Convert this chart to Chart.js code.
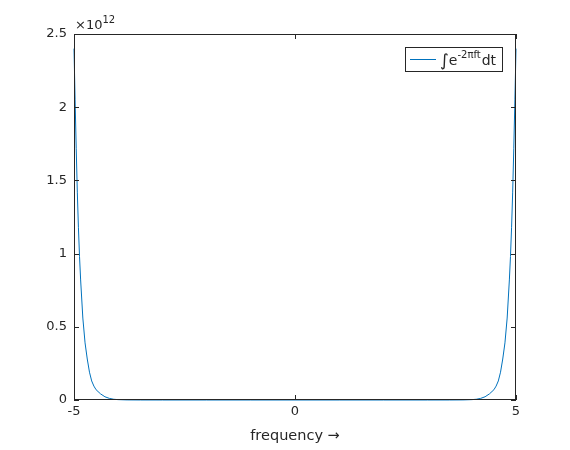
<!DOCTYPE html>
<html>
<head>
<meta charset="utf-8">
<script src="https://cdn.jsdelivr.net/npm/chart.js@4/dist/chart.umd.min.js"></script>
<style>html,body{margin:0;background:#fff}</style>
</head>
<body>
<canvas id="chart" width="570" height="450"></canvas>
<script>
// Values (y in units of 10^12)
const freq = [-5, -4.975, -4.95, -4.925, -4.9, -4.875, -4.85, -4.8, -4.75, -4.7, -4.65, -4.6, -4.55, -4.5, -4.4, -4.3, -4.2, -4.1, -4, -3.8, -3.5,
              -3, -2, -1, 0, 1, 2, 3,
              3.5, 3.8, 4, 4.1, 4.2, 4.3, 4.4, 4.5, 4.55, 4.6, 4.65, 4.7, 4.75, 4.8, 4.85, 4.875, 4.9, 4.925, 4.95, 4.975, 5];
const magnitude = [2.40, 2.05, 1.72, 1.42, 1.18, 0.98, 0.82, 0.56, 0.39, 0.28, 0.19, 0.13, 0.095, 0.07, 0.042, 0.022, 0.011, 0.005, 0.0025, 0.0006, 0.0001,
                   0, 0, 0, 0, 0, 0, 0,
                   0.0001, 0.0006, 0.0025, 0.005, 0.011, 0.022, 0.042, 0.07, 0.095, 0.13, 0.19, 0.28, 0.39, 0.56, 0.82, 0.98, 1.18, 1.42, 1.72, 2.05, 2.40];
const xTicks = [-5, 0, 5];
const yTicks = [0, 0.5, 1, 1.5, 2, 2.5];
const exponentLabel = '12';

const textColor = '#262626';
const lineColor = '#0072bd';
const fontFamily = '"DejaVu Sans", sans-serif';

// box, inward ticks, exponent and legend drawn the MATLAB way
const matlabFrame = {
    id: 'matlabFrame',
    afterDraw(chart) {
        const {ctx, chartArea: a, scales: {x, y}} = chart;
        ctx.save();
        ctx.strokeStyle = textColor;
        ctx.lineWidth = 1;
        ctx.strokeRect(a.left + 0.5, a.top + 0.5, a.right - a.left - 1, a.bottom - a.top - 1);

        ctx.beginPath();
        xTicks.forEach(v => {
            const px = Math.round(x.getPixelForValue(v)) + 0.5;
            ctx.moveTo(px, a.bottom); ctx.lineTo(px, a.bottom - 5);
            ctx.moveTo(px, a.top); ctx.lineTo(px, a.top + 5);
        });
        yTicks.forEach(v => {
            const py = Math.round(y.getPixelForValue(v)) + 0.5;
            ctx.moveTo(a.left, py); ctx.lineTo(a.left + 5, py);
            ctx.moveTo(a.right, py); ctx.lineTo(a.right - 5, py);
        });
        ctx.stroke();

        // ×10^12
        ctx.fillStyle = textColor;
        ctx.textBaseline = 'alphabetic';
        ctx.font = '13px ' + fontFamily;
        ctx.fillText('\u00d710', a.left + 1, a.top - 5);
        const w = ctx.measureText('\u00d710').width;
        ctx.font = '10px ' + fontFamily;
        ctx.fillText(exponentLabel, a.left + 1 + w, a.top - 11);

        // legend
        const lx = 405, ly = 47, lw = 97, lh = 24;
        ctx.fillStyle = '#fff';
        ctx.fillRect(lx, ly, lw, lh);
        ctx.strokeStyle = textColor;
        ctx.strokeRect(lx + 0.5, ly + 0.5, lw, lh);
        ctx.strokeStyle = lineColor;
        ctx.beginPath();
        ctx.moveTo(410, ly + 12.5); ctx.lineTo(436, ly + 12.5);
        ctx.stroke();
        ctx.fillStyle = textColor;
        let tx = 440;
        const base = ly + 18;
        ctx.font = '17px ' + fontFamily;
        ctx.fillText('\u222b', tx, base + 1);
        tx += ctx.measureText('\u222b').width;
        ctx.font = '14px ' + fontFamily;
        ctx.fillText('e', tx, base);
        tx += ctx.measureText('e').width;
        ctx.font = '10px ' + fontFamily;
        ctx.fillText('-2\u03c0ft', tx, base - 7);
        tx += ctx.measureText('-2\u03c0ft').width + 1;
        ctx.font = '14px ' + fontFamily;
        ctx.fillText('dt', tx, base);
        ctx.restore();
    }
};

const ctx = document.getElementById('chart').getContext('2d');
new Chart(ctx, {
    type: 'line',
    data: {
        datasets: [{
            data: freq.map((f, i) => ({x: f, y: magnitude[i]})),
            borderColor: lineColor,
            borderWidth: 1,
            pointRadius: 0,
            tension: 0,
            fill: false,
            clip: 4
        }]
    },
    options: {
        responsive: false,
        animation: false,
        layout: {padding: {top: 34, right: 54, left: 0, bottom: 0}},
        plugins: {legend: {display: false}, tooltip: {enabled: false}},
        scales: {
            x: {
                type: 'linear',
                min: -5,
                max: 5,
                afterBuildTicks: s => { s.ticks = xTicks.map(v => ({value: v})); },
                afterFit: s => { s.height = 50; },
                grid: {display: false, drawTicks: false},
                border: {display: false},
                ticks: {color: textColor, font: {family: fontFamily, size: 13}, padding: 4, maxRotation: 0,
                        callback: v => String(v)},
                title: {display: true, text: 'frequency \u2192', color: textColor, font: {family: fontFamily, size: 14.5}, padding: {top: 5, bottom: 5}}
            },
            y: {
                min: 0,
                max: 2.5,
                afterBuildTicks: s => { s.ticks = yTicks.map(v => ({value: v})); },
                afterFit: s => { s.width = 74; },
                grid: {display: false, drawTicks: false},
                border: {display: false},
                ticks: {color: textColor, font: {family: fontFamily, size: 13}, padding: 7,
                        callback: v => String(v)}
            }
        }
    },
    plugins: [matlabFrame]
});
</script>
</body>
</html>
